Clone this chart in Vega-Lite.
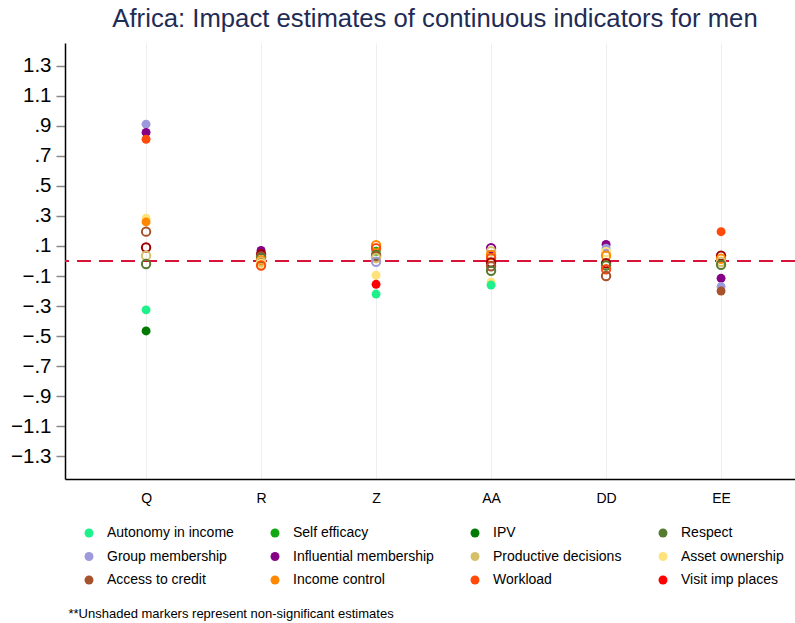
{
  "$schema": "https://vega.github.io/schema/vega-lite/v6.json",
  "width": 730,
  "height": 436,
  "autosize": "none",
  "padding": {"left": 65, "top": 43, "right": 0, "bottom": 144},
  "background": "white",
  "config": {
    "view": {"stroke": null},
    "font": "Liberation Sans"
  },
  "title": {
    "text": "Africa: Impact estimates of continuous indicators for men",
    "fontSize": 25.7,
    "fontWeight": "normal",
    "color": "#1f2c55",
    "anchor": "middle",
    "dx": 5,
    "offset": 10
  },
  "data": {
    "values": [
      {"site": "Q", "indicator": "Group membership", "estimate": 0.91, "significant": true},
      {"site": "Q", "indicator": "Influential membership", "estimate": 0.855, "significant": true},
      {"site": "Q", "indicator": "Workload", "estimate": 0.81, "significant": true},
      {"site": "Q", "indicator": "Asset ownership", "estimate": 0.285, "significant": true},
      {"site": "Q", "indicator": "Income control", "estimate": 0.26, "significant": true},
      {"site": "Q", "indicator": "Access to credit", "estimate": 0.195, "significant": false},
      {"site": "Q", "indicator": "Visit imp places", "estimate": 0.09, "significant": false},
      {"site": "Q", "indicator": "Productive decisions", "estimate": 0.035, "significant": false},
      {"site": "Q", "indicator": "Respect", "estimate": -0.02, "significant": false},
      {"site": "Q", "indicator": "Autonomy in income", "estimate": -0.325, "significant": true},
      {"site": "Q", "indicator": "IPV", "estimate": -0.465, "significant": true},

      {"site": "R", "indicator": "Influential membership", "estimate": 0.07, "significant": true},
      {"site": "R", "indicator": "Visit imp places", "estimate": 0.045, "significant": false},
      {"site": "R", "indicator": "Access to credit", "estimate": 0.03, "significant": false},
      {"site": "R", "indicator": "Respect", "estimate": 0.02, "significant": false},
      {"site": "R", "indicator": "Income control", "estimate": 0.005, "significant": false},
      {"site": "R", "indicator": "Productive decisions", "estimate": -0.005, "significant": false},
      {"site": "R", "indicator": "Asset ownership", "estimate": -0.02, "significant": false},
      {"site": "R", "indicator": "Workload", "estimate": -0.03, "significant": false},

      {"site": "Z", "indicator": "Income control", "estimate": 0.105, "significant": false},
      {"site": "Z", "indicator": "Workload", "estimate": 0.085, "significant": false},
      {"site": "Z", "indicator": "Self efficacy", "estimate": 0.065, "significant": true},
      {"site": "Z", "indicator": "Respect", "estimate": 0.04, "significant": false},
      {"site": "Z", "indicator": "Access to credit", "estimate": 0.03, "significant": false},
      {"site": "Z", "indicator": "Productive decisions", "estimate": 0.02, "significant": false},
      {"site": "Z", "indicator": "Group membership", "estimate": -0.005, "significant": false},
      {"site": "Z", "indicator": "Asset ownership", "estimate": -0.095, "significant": true},
      {"site": "Z", "indicator": "Visit imp places", "estimate": -0.155, "significant": true},
      {"site": "Z", "indicator": "Autonomy in income", "estimate": -0.22, "significant": true},

      {"site": "AA", "indicator": "Influential membership", "estimate": 0.085, "significant": false},
      {"site": "AA", "indicator": "Productive decisions", "estimate": 0.065, "significant": false},
      {"site": "AA", "indicator": "Income control", "estimate": 0.04, "significant": false},
      {"site": "AA", "indicator": "Workload", "estimate": 0.02, "significant": false},
      {"site": "AA", "indicator": "Visit imp places", "estimate": -0.01, "significant": false},
      {"site": "AA", "indicator": "Access to credit", "estimate": -0.035, "significant": false},
      {"site": "AA", "indicator": "Respect", "estimate": -0.065, "significant": false},
      {"site": "AA", "indicator": "Asset ownership", "estimate": -0.14, "significant": true},
      {"site": "AA", "indicator": "Autonomy in income", "estimate": -0.16, "significant": true},

      {"site": "DD", "indicator": "Influential membership", "estimate": 0.11, "significant": true},
      {"site": "DD", "indicator": "Group membership", "estimate": 0.085, "significant": true},
      {"site": "DD", "indicator": "Asset ownership", "estimate": 0.06, "significant": false},
      {"site": "DD", "indicator": "Income control", "estimate": 0.035, "significant": false},
      {"site": "DD", "indicator": "Visit imp places", "estimate": -0.015, "significant": false},
      {"site": "DD", "indicator": "Respect", "estimate": -0.03, "significant": false},
      {"site": "DD", "indicator": "Workload", "estimate": -0.055, "significant": false},
      {"site": "DD", "indicator": "Access to credit", "estimate": -0.1, "significant": false},

      {"site": "EE", "indicator": "Workload", "estimate": 0.195, "significant": true},
      {"site": "EE", "indicator": "Visit imp places", "estimate": 0.035, "significant": false},
      {"site": "EE", "indicator": "Income control", "estimate": 0.015, "significant": false},
      {"site": "EE", "indicator": "Productive decisions", "estimate": -0.005, "significant": false},
      {"site": "EE", "indicator": "Respect", "estimate": -0.025, "significant": false},
      {"site": "EE", "indicator": "Influential membership", "estimate": -0.115, "significant": true},
      {"site": "EE", "indicator": "Group membership", "estimate": -0.17, "significant": true},
      {"site": "EE", "indicator": "Access to credit", "estimate": -0.2, "significant": true}
    ]
  },
  "layer": [
    {
      "mark": {"type": "rule", "color": "#d8143a", "strokeWidth": 1.5, "strokeDash": [14, 8]},
      "encoding": {
        "y": {"datum": 0, "type": "quantitative", "scale": {"domain": [-1.45, 1.45]}}
      }
    },
    {
      "transform": [{"filter": "datum.significant"}],
      "mark": {"type": "point", "shape": "circle", "filled": true, "size": 80, "opacity": 1},
      "encoding": {
        "x": {
          "field": "site",
          "type": "ordinal",
          "sort": ["Q", "R", "Z", "AA", "DD", "EE"],
          "scale": {"type": "point", "padding": 0.674, "align": 0.523},
          "axis": {
            "title": "**Unshaded markers represent non-significant estimates",
            "titleX": 3,
            "titleY": 134,
            "titleAlign": "left",
            "titleAnchor": "start",
            "titleBaseline": "middle",
            "titleFontSize": 13,
            "titleFontWeight": "normal",
            "titleColor": "black",
            "labelAngle": 0,
            "labelFontSize": 14,
            "labelColor": "black",
            "labelPadding": 12,
            "ticks": false,
            "domainColor": "black",
            "domainWidth": 1.5,
            "grid": true,
            "gridColor": "#efefef",
            "gridWidth": 1
          }
        },
        "y": {
          "field": "estimate",
          "type": "quantitative",
          "scale": {"domain": [-1.45, 1.45]},
          "axis": {
            "title": null,
            "grid": false,
            "values": [-1.3, -1.1, -0.9, -0.7, -0.5, -0.3, -0.1, 0.1, 0.3, 0.5, 0.7, 0.9, 1.1, 1.3],
            "tickCount": 20,
            "labelExpr": "replace(format(datum.value, '.1f'), '0.', '.')",
            "labelOverlap": false,
            "labelFontSize": 20.5,
            "labelColor": "black",
            "labelPadding": 5,
            "tickSize": 9,
            "tickColor": "#888888",
            "tickWidth": 1.5,
            "domainColor": "black",
            "domainWidth": 1.5
          }
        },
        "color": {
          "field": "indicator",
          "type": "nominal",
          "scale": {
            "domain": ["Autonomy in income", "Self efficacy", "IPV", "Respect", "Group membership", "Influential membership", "Productive decisions", "Asset ownership", "Access to credit", "Income control", "Workload", "Visit imp places"],
            "range": ["#1ef08a", "#12a812", "#007a00", "#557b30", "#9c9adc", "#860086", "#d6c06a", "#ffe27a", "#a6522c", "#ff8800", "#ff4a0a", "#ff0000"]
          },
          "legend": {
            "title": null,
            "orient": "none",
            "direction": "horizontal",
            "legendX": 17,
            "legendY": 483,
            "columns": 4,
            "columnPadding": 34,
            "rowPadding": 9.5,
            "padding": 0,
            "labelFontSize": 14,
            "labelColor": "black",
            "labelOffset": 11,
            "symbolSize": 80,
            "symbolType": "circle",
            "symbolStrokeWidth": 0,
            "symbolOpacity": 1
          }
        }
      }
    },
    {
      "transform": [{"filter": "!datum.significant"}],
      "mark": {"type": "point", "shape": "circle", "filled": false, "size": 70, "strokeWidth": 2, "opacity": 1},
      "encoding": {
        "x": {
          "field": "site",
          "type": "ordinal",
          "sort": ["Q", "R", "Z", "AA", "DD", "EE"],
          "scale": {"type": "point", "padding": 0.674, "align": 0.523}
        },
        "y": {"field": "estimate", "type": "quantitative", "scale": {"domain": [-1.45, 1.45]}},
        "color": {
          "field": "indicator",
          "type": "nominal",
          "scale": {
            "domain": ["Autonomy in income", "Self efficacy", "IPV", "Respect", "Group membership", "Influential membership", "Productive decisions", "Asset ownership", "Access to credit", "Income control", "Workload", "Visit imp places"],
            "range": ["#1ef08a", "#12a812", "#007a00", "#557b30", "#9c9adc", "#860086", "#d6c06a", "#ffe27a", "#a6522c", "#ff8800", "#ff4a0a", "#a00000"]
          },
          "legend": null
        }
      }
    }
  ],
  "resolve": {"scale": {"color": "independent"}}
}
